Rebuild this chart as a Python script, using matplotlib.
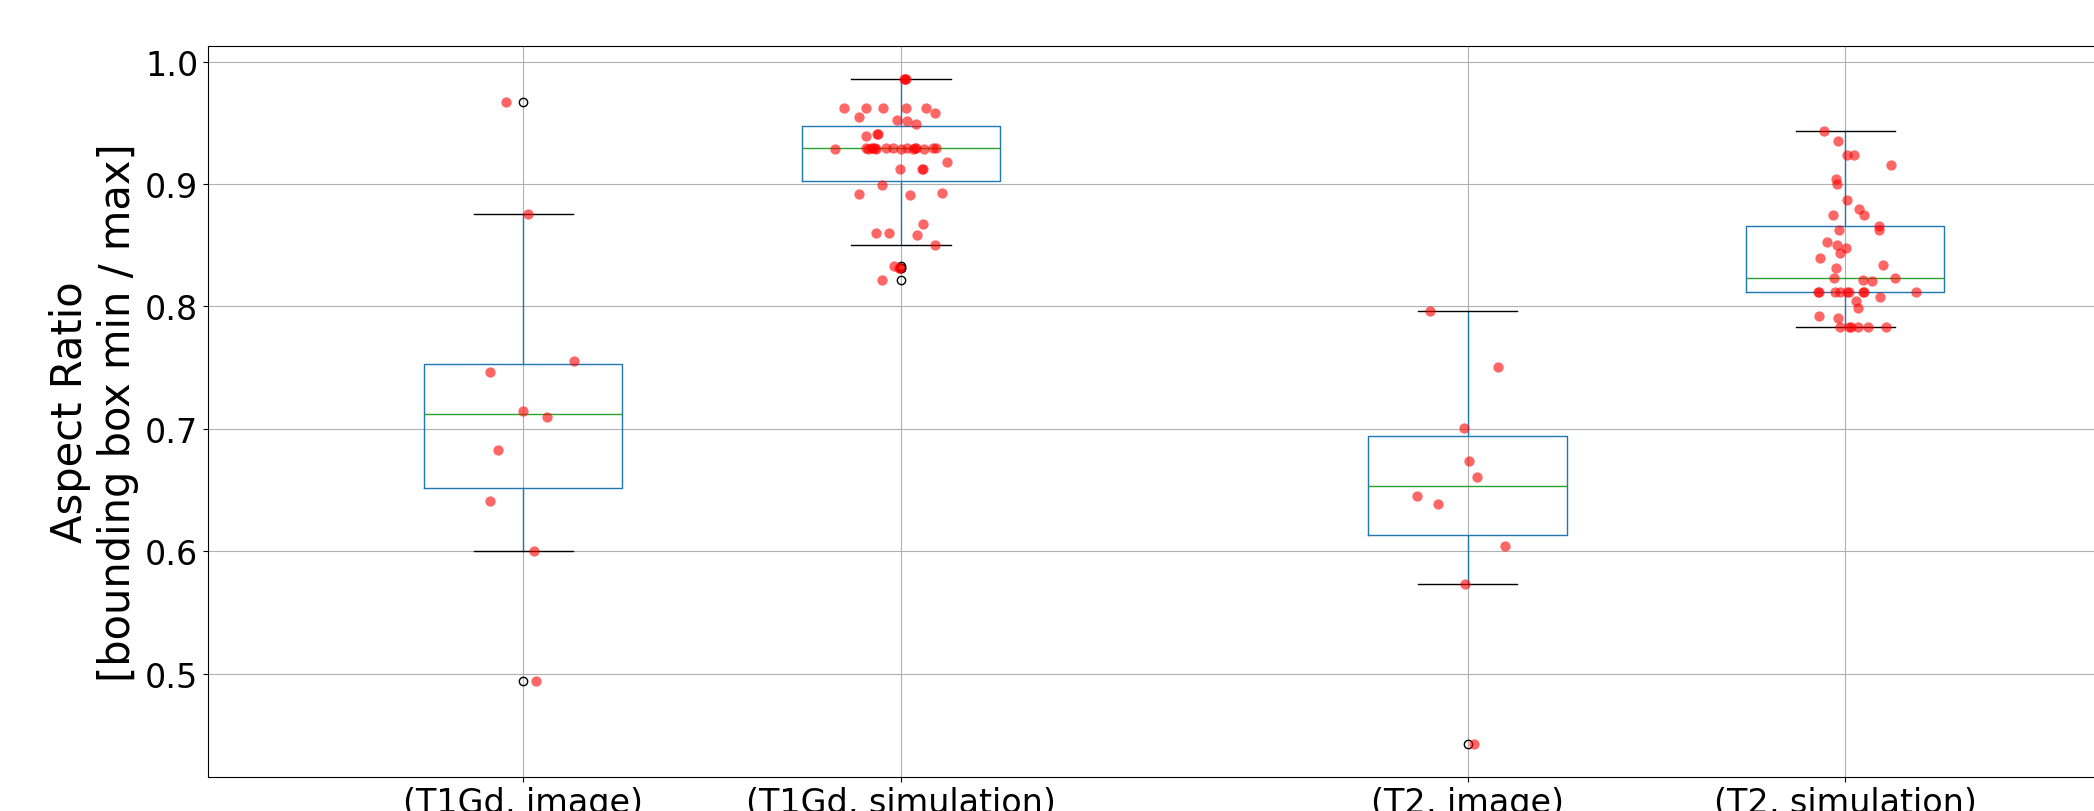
import numpy as np
import matplotlib
matplotlib.use("Agg")
import matplotlib.pyplot as plt

# ---------------------------------------------------------
# data (aspect ratios per case)
# ---------------------------------------------------------
labels = ["(T1Gd, image)", "(T1Gd, simulation)", "(T2, image)", "(T2, simulation)"]
positions = [1.0, 2.0, 3.5, 4.5]

t1_image = [0.9668, 0.8753, 0.7552, 0.7462, 0.7146, 0.7095, 0.6828, 0.6414, 0.6002, 0.4943]
t1_image_dx = [-0.046, 0.012, 0.134, -0.087, -0.002, 0.063, -0.067, -0.088, 0.028, 0.033]

t1_sim = [0.9859, 0.9859, 0.9859,
          0.9622, 0.9622, 0.9622, 0.9622, 0.9622,
          0.9583, 0.9546, 0.9526, 0.9513, 0.9491, 0.9409, 0.9409, 0.9395,
          0.9290, 0.9292, 0.9290, 0.9295, 0.9292, 0.9298, 0.9290, 0.9292, 0.9295,
          0.9290, 0.9292, 0.9290, 0.9295, 0.9292, 0.9290, 0.9295, 0.9292,
          0.9178, 0.9123, 0.9123, 0.9123,
          0.8995, 0.8930, 0.8917, 0.8911, 0.8672, 0.8603, 0.8603, 0.8584, 0.8502,
          0.8328, 0.8312, 0.8312, 0.8219]
t1_sim_dx = [0.009, 0.013, 0.011,
             -0.151, -0.093, -0.047, 0.013, 0.067,
             0.091, -0.111, -0.011, 0.017, 0.040, -0.063, -0.060, -0.093,
             -0.176, -0.093, -0.087, -0.080, -0.073, -0.069, -0.065, -0.040, -0.022,
             0.000, 0.017, 0.031, 0.036, 0.041, 0.060, 0.086, 0.094,
             0.122, -0.003, 0.055, 0.057,
             -0.050, 0.109, -0.111, 0.024, 0.059, -0.065, -0.031, 0.043, 0.089,
             -0.019, -0.005, -0.003, -0.051]

t2_image = [0.7961, 0.7503, 0.7005, 0.6740, 0.6610, 0.6454, 0.6386, 0.6046, 0.5735, 0.4431]
t2_image_dx = [-0.099, 0.082, -0.009, 0.005, 0.026, -0.134, -0.078, 0.099, -0.006, 0.016]

t2_sim = [0.9436, 0.9352, 0.9235, 0.9235, 0.9154, 0.9042, 0.8998, 0.8873, 0.8797,
          0.8748, 0.8748, 0.8655, 0.8627, 0.8627,
          0.8527, 0.8505, 0.8480, 0.8440, 0.8396, 0.8342, 0.8315, 0.8235, 0.8233,
          0.8217, 0.8206,
          0.8116, 0.8116, 0.8116, 0.8116, 0.8116, 0.8116, 0.8116, 0.8116, 0.8116,
          0.8080, 0.8042, 0.7990, 0.7920, 0.7906,
          0.7830, 0.7830, 0.7830, 0.7830, 0.7830, 0.7830]
t2_sim_dx = [-0.055, -0.019, 0.005, 0.023, 0.121, -0.024, -0.021, 0.005, 0.036,
             0.050, -0.032, 0.089, 0.089, -0.017,
             -0.048, -0.021, 0.003, -0.015, -0.068, 0.099, -0.025, 0.132, -0.031,
             0.048, 0.071,
             -0.072, -0.070, -0.028, -0.013, 0.005, 0.009, 0.048, 0.050, 0.188,
             0.093, 0.028, 0.035, -0.070, -0.019,
             -0.013, 0.010, 0.016, 0.033, 0.061, 0.109]

groups = [t1_image, t1_sim, t2_image, t2_sim]
offsets = [t1_image_dx, t1_sim_dx, t2_image_dx, t2_sim_dx]

# ---------------------------------------------------------
fig = plt.figure(figsize=(20.94, 8.12), dpi=100)
ax = fig.add_axes([0.0993, 0.0422, 0.9325, 0.9004])

ax.boxplot(
    groups,
    positions=positions,
    widths=0.525,
    boxprops=dict(color="#1f77b4"),
    whiskerprops=dict(color="#1f77b4"),
    medianprops=dict(color="#2ca02c"),
    capprops=dict(color="black"),
    flierprops=dict(marker="o", markerfacecolor="none", markeredgecolor="black"),
)

for pos, vals, dx in zip(positions, groups, offsets):
    xs = pos + np.array(dx)
    ax.scatter(xs, vals, color="r", alpha=0.6, s=55, linewidths=0, zorder=3)

ax.set_xticks(positions)
ax.set_xticklabels(labels)
ax.set_xlim(0.165, 5.335)
ax.tick_params(axis="both", labelsize=24)
ax.set_ylabel("Aspect Ratio\n[bounding box min / max]", fontsize=30)
ax.grid(True)

fig.savefig("out.png", dpi=100)
